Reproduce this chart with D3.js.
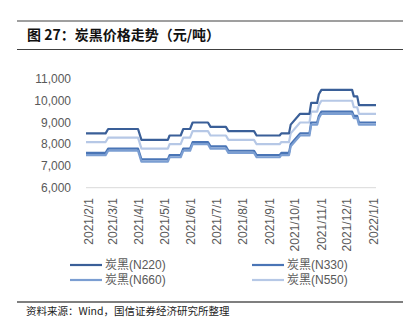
<!DOCTYPE html>
<html>
<head>
<meta charset="utf-8">
<script src="https://cdn.jsdelivr.net/npm/d3@7/dist/d3.min.js"></script>
<style>
  html, body { margin: 0; padding: 0; background: #ffffff; }
  svg { display: block; }
  text { font-family: "Liberation Sans", Arial, "Noto Sans CJK SC", sans-serif; }
  .cjk { font-family: "Noto Sans CJK SC", "Liberation Sans", sans-serif; }
</style>
</head>
<body>
<svg id="chart" width="411" height="332"></svg>
<script>
// Observation dates; each price level is held between consecutive pairs.
const dates = [
  "2021-01-29", "2021-02-21", "2021-02-24", "2021-03-31", "2021-04-04",
  "2021-05-05", "2021-05-07", "2021-05-20", "2021-05-23", "2021-05-31",
  "2021-06-03", "2021-06-21", "2021-06-24", "2021-07-12", "2021-07-15",
  "2021-08-14", "2021-08-17", "2021-09-13", "2021-09-15", "2021-09-24",
  "2021-09-26", "2021-10-07", "2021-10-18", "2021-10-20", "2021-10-27",
  "2021-10-29", "2021-11-01", "2021-12-07", "2021-12-09", "2021-12-13",
  "2021-12-15", "2022-01-04"
];

// Prices, yuan / tonne
const n220 = [8500, 8500, 8700, 8700, 8200, 8200, 8400, 8400, 8700, 8700,
              9000, 9000, 8800, 8800, 8600, 8600, 8400, 8400, 8500, 8500,
              8900, 9400, 9400, 9900, 9900, 10300, 10500, 10500, 10200, 10200,
              9800, 9800];
const n330 = [7600, 7600, 7800, 7800, 7300, 7300, 7500, 7500, 7800, 7800,
              8100, 8100, 7900, 7900, 7700, 7700, 7500, 7500, 7600, 7600,
              8000, 8500, 8500, 9000, 9000, 9300, 9500, 9500, 9300, 9300,
              9000, 9000];
const n660 = [7500, 7500, 7700, 7700, 7200, 7200, 7400, 7400, 7700, 7700,
              8000, 8000, 7800, 7800, 7600, 7600, 7400, 7400, 7500, 7500,
              7900, 8400, 8400, 8900, 8900, 9200, 9400, 9400, 9200, 9200,
              8900, 8900];
const n550 = [8100, 8100, 8300, 8300, 7800, 7800, 8000, 8000, 8300, 8300,
              8600, 8600, 8400, 8400, 8200, 8200, 8000, 8000, 8100, 8100,
              8500, 9000, 9000, 9500, 9500, 9800, 10000, 10000, 9700, 9700,
              9400, 9400];

const seriesNames = ["炭黑(N220)", "炭黑(N330)", "炭黑(N660)", "炭黑(N550)"];
const seriesColors = ["#3a5f98", "#4a75b6", "#7b9ed2", "#b6c8e6"];

const yTicks = [6000, 7000, 8000, 9000, 10000, 11000];
const xTickLabels = ["2021/2/1", "2021/3/1", "2021/4/1", "2021/5/1", "2021/6/1",
                     "2021/7/1", "2021/8/1", "2021/9/1", "2021/10/1", "2021/11/1",
                     "2021/12/1", "2022/1/1"];

const title = "图 27：炭黑价格走势（元/吨）";
const source = "资料来源：Wind，国信证券经济研究所整理";

const svg = d3.select("#chart");
const parse = d3.timeParse("%Y-%m-%d");
const parseTick = d3.timeParse("%Y/%m/%d");

const x = d3.scaleTime()
  .domain([parse(dates[0]), parse(dates[dates.length - 1])])
  .range([86, 376]);
const y = d3.scaleLinear().domain([6000, 11000]).range([187.7, 79]);

// Header rules and title
svg.append("line").attr("x1", 17).attr("x2", 403).attr("y1", 21).attr("y2", 21)
  .attr("stroke", "#404040").attr("stroke-width", 1.2);
svg.append("line").attr("x1", 17).attr("x2", 403).attr("y1", 49.5).attr("y2", 49.5)
  .attr("stroke", "#404040").attr("stroke-width", 1.2);
svg.append("text").attr("class", "cjk").attr("x", 27).attr("y", 39.5)
  .attr("font-size", 14).attr("font-weight", "bold").attr("fill", "#111")
  .text(title);

// Y axis labels
svg.append("g").selectAll("text").data(yTicks).join("text")
  .attr("x", 71).attr("y", d => y(d)).attr("dy", "0.35em")
  .attr("text-anchor", "end").attr("font-size", 12).attr("fill", "#595959")
  .text(d => d3.format(",")(d));

// Baseline at the axis minimum
svg.append("line").attr("x1", x.range()[0]).attr("x2", x.range()[1])
  .attr("y1", y(6000)).attr("y2", y(6000))
  .attr("stroke", "#d9d9d9").attr("stroke-width", 1);

// X axis labels, rotated
svg.append("g").selectAll("text").data(xTickLabels).join("text")
  .attr("transform", d => `translate(${x(parseTick(d))},198) rotate(-90)`)
  .attr("dy", "0.35em").attr("text-anchor", "end")
  .attr("font-size", 12).attr("fill", "#595959")
  .text(d => d);

// Series lines
const seriesValues = [n220, n330, n660, n550];
const line = d3.line().x(d => x(d.date)).y(d => y(d.value));
const drawOrder = [3, 0, 1, 2];
drawOrder.forEach(i => {
  const pts = dates.map((dt, k) => ({ date: parse(dt), value: seriesValues[i][k] }));
  svg.append("path").datum(pts)
    .attr("fill", "none").attr("stroke", seriesColors[i])
    .attr("stroke-width", 2.2).attr("stroke-linejoin", "round")
    .attr("d", line);
});

// Legend: two columns, two rows
const legendPos = [[70, 265], [252, 265], [70, 280], [252, 280]];
seriesNames.forEach((name, i) => {
  const [lx, ly] = legendPos[i];
  svg.append("line").attr("x1", lx).attr("x2", lx + 32).attr("y1", ly).attr("y2", ly)
    .attr("stroke", seriesColors[i]).attr("stroke-width", 2.2);
  svg.append("text").attr("x", lx + 35).attr("y", ly).attr("dy", "0.35em")
    .attr("font-size", 12).attr("fill", "#595959").text(name);
});

// Footer
svg.append("line").attr("x1", 17).attr("x2", 403).attr("y1", 302).attr("y2", 302)
  .attr("stroke", "#7f7f7f").attr("stroke-width", 2);
svg.append("text").attr("class", "cjk").attr("x", 26).attr("y", 311).attr("dy", "0.35em")
  .attr("font-size", 10.5).attr("fill", "#222").text(source);
</script>
</body>
</html>
